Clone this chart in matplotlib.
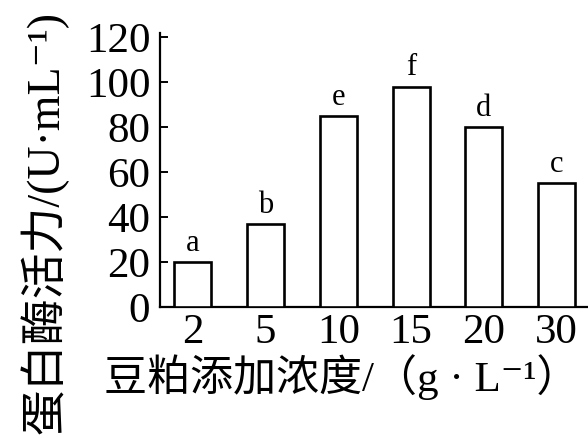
import matplotlib
matplotlib.use("Agg")
import matplotlib.pyplot as plt

# Protease activity at different soybean-meal concentrations
concentrations = ["2", "5", "10", "15", "20", "30"]
activity = [20, 37, 85, 98, 80, 55]
letters = ["a", "b", "e", "f", "d", "c"]
y_ticks = [0, 20, 40, 60, 80, 100, 120]

fonts = ["Liberation Serif", "DejaVu Serif", "Noto Sans CJK SC"]
plt.rcParams["font.family"] = fonts

fig = plt.figure(figsize=(5.88, 4.38), dpi=100)
ax = fig.add_axes([160 / 588, 131 / 438, 428 / 588, 274 / 438])

x = list(range(len(concentrations)))
bars = ax.bar(x, activity, width=0.51, color="white", edgecolor="black",
              linewidth=1.9, zorder=3)

for xi, val, lab in zip(x, activity, letters):
    ax.annotate(lab, (xi, val), xytext=(0, 3), textcoords="offset points",
                ha="center", va="bottom", fontsize=22, family=fonts)

ax.set_xlim(-0.45, 5.43)
ax.set_ylim(0, 121.8)
ax.set_xticks(x)
ax.set_xticklabels(concentrations)
ax.set_yticks(y_ticks)

for side in ("top", "right"):
    ax.spines[side].set_visible(False)
for side in ("left", "bottom"):
    ax.spines[side].set_linewidth(1.6)

ax.tick_params(axis="y", direction="in", length=6, width=1.4, pad=7,
               labelsize=31)
ax.tick_params(axis="x", length=0, pad=5, labelsize=31)

fig.text(104 / 588, 1 - 377 / 438, "豆粕添加浓度/（g · L⁻¹）",
         ha="left", va="center", fontsize=31, family=fonts)
fig.text(44 / 588, 1 - 222 / 438, "蛋白酶活力/(U·mL⁻¹)",
         ha="center", va="center", rotation=90, fontsize=33, family=fonts)

fig.savefig("out.png", dpi=100)
